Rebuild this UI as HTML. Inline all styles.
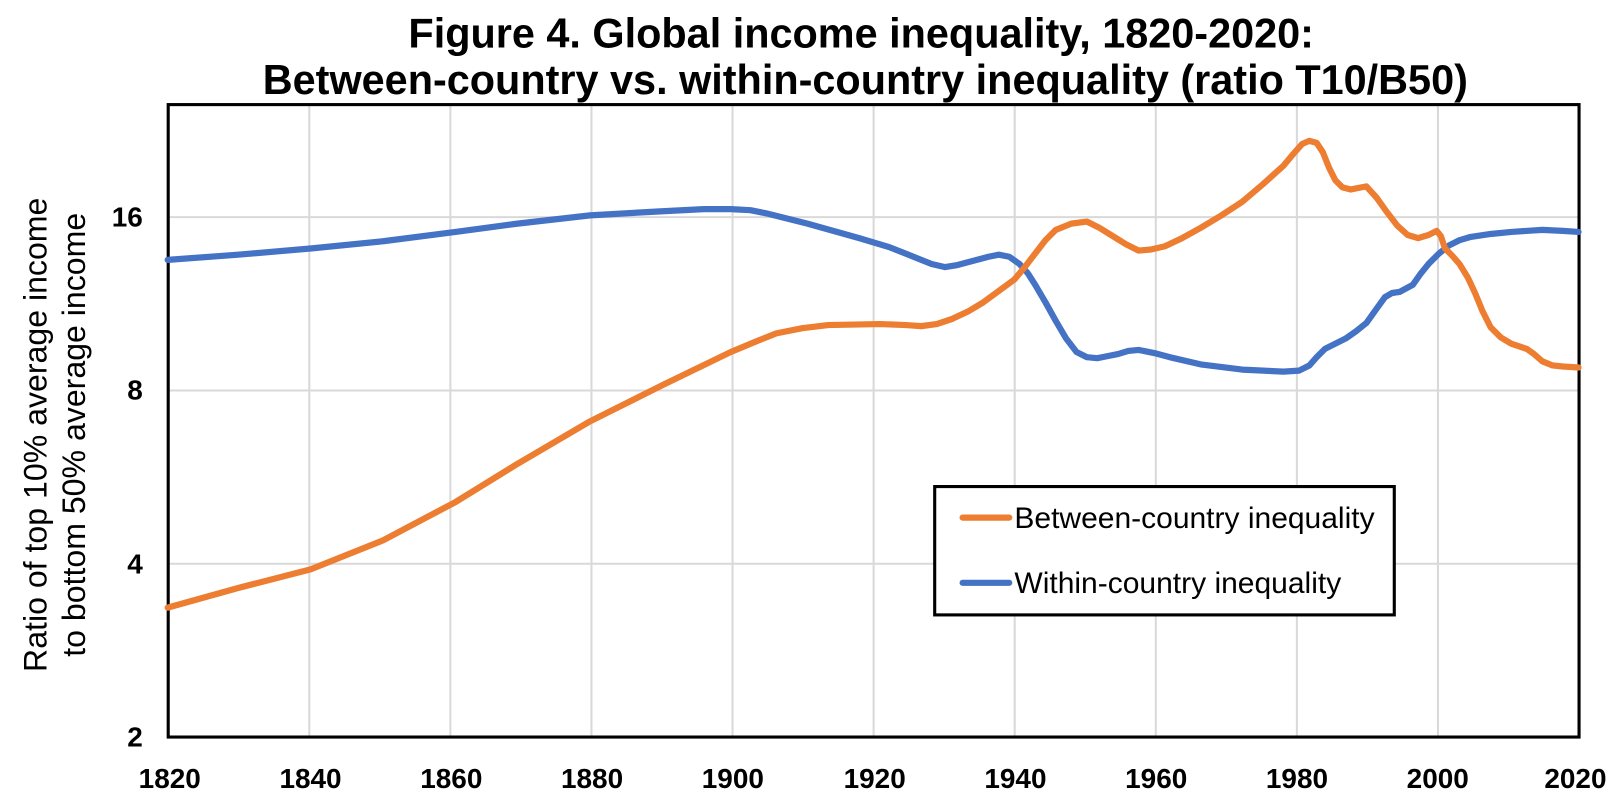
<!DOCTYPE html>
<html><head><meta charset="utf-8"><style>
html,body{margin:0;padding:0;background:#fff;}
svg{display:block;}
text{font-family:"Liberation Sans",Arial,sans-serif;}
</style></head><body>
<svg width="1622" height="793" viewBox="0 0 1567 766" xmlns="http://www.w3.org/2000/svg">
<g font-weight="bold" font-size="40" text-anchor="middle" fill="#000">
<text x="832" y="46">Figure 4. Global income inequality, 1820-2020:</text>
<text x="836" y="91">Between-country vs. within-country inequality (ratio T10/B50)</text>
</g>
<g stroke="#d9d9d9" stroke-width="2">
<line x1="298.8" y1="101" x2="298.8" y2="712"/>
<line x1="435.1" y1="101" x2="435.1" y2="712"/>
<line x1="571.4" y1="101" x2="571.4" y2="712"/>
<line x1="707.7" y1="101" x2="707.7" y2="712"/>
<line x1="844" y1="101" x2="844" y2="712"/>
<line x1="980.3" y1="101" x2="980.3" y2="712"/>
<line x1="1116.6" y1="101" x2="1116.6" y2="712"/>
<line x1="1252.9" y1="101" x2="1252.9" y2="712"/>
<line x1="1389.2" y1="101" x2="1389.2" y2="712"/>
<line x1="162.5" y1="209.7" x2="1525.5" y2="209.7"/>
<line x1="162.5" y1="377.2" x2="1525.5" y2="377.2"/>
<line x1="162.5" y1="544.6" x2="1525.5" y2="544.6"/>
</g>
<rect x="162.5" y="101" width="1363" height="611" fill="none" stroke="#000" stroke-width="3"/>
<g font-weight="bold" font-size="27" text-anchor="end">
<text x="138" y="219">16</text>
<text x="138" y="386">8</text>
<text x="138" y="554">4</text>
<text x="138" y="721">2</text>
</g>
<g font-weight="bold" font-size="27" text-anchor="middle">
<text x="164" y="761">1820</text><text x="300" y="761">1840</text><text x="436" y="761">1860</text>
<text x="572" y="761">1880</text><text x="708" y="761">1900</text><text x="845" y="761">1920</text>
<text x="981" y="761">1940</text><text x="1117" y="761">1960</text><text x="1253" y="761">1980</text>
<text x="1389" y="761">2000</text><text x="1522" y="761">2020</text>
</g>
<g font-size="31" text-anchor="middle">
<text transform="translate(45,420) rotate(-90)">Ratio of top 10% average income</text>
<text transform="translate(82,420) rotate(-90)">to bottom 50% average income</text>
</g>
<polyline fill="none" stroke="#4472c4" stroke-width="6" stroke-linejoin="round" stroke-linecap="round" points="162,251 230,246 300,240 370,233 440,224 500,216 570,208 640,204 680,202 706,202 725,203 740,206 780,216 830,230 860,239 875,245 890,251 900,255 913,258 925,256 940,252 955,248 965,246 975,248 985,255 993,264 1000,275 1010,292 1020,310 1030,327 1040,340 1050,345 1060,346 1070,344 1080,342 1090,339 1100,338 1115,341 1130,345 1160,352 1200,357 1240,359 1255,358 1265,353 1272,345 1280,337 1300,327 1310,320 1320,312 1330,298 1338,287 1345,283 1352,282 1365,275 1372,265 1380,255 1390,245 1400,237 1410,232 1420,229 1440,226 1460,224 1490,222 1510,223 1525,224"/>
<polyline fill="none" stroke="#ed7d31" stroke-width="6" stroke-linejoin="round" stroke-linecap="round" points="162,587 230,568 300,550 370,522 440,485 500,448 570,407 640,372 706,340 730,330 750,322 775,317 800,314 850,313 875,314 890,315 905,313 920,308 935,301 950,292 965,281 980,270 990,258 1000,245 1010,232 1020,222 1035,216 1050,214 1062,220 1075,228 1088,236 1100,242 1112,241 1125,238 1142,230 1160,220 1180,208 1200,195 1220,178 1240,160 1250,148 1258,139 1265,136 1272,138 1278,147 1284,162 1290,174 1297,181 1305,183 1320,180 1330,191 1340,205 1350,218 1360,227 1370,230 1380,227 1388,223 1392,228 1396,240 1403,247 1410,255 1418,268 1425,283 1432,300 1440,316 1450,326 1460,332 1475,337 1482,342 1490,349 1500,353 1510,354 1525,355"/>
<rect x="903" y="470" width="444" height="124" fill="#fff" stroke="#000" stroke-width="3"/>
<line x1="930" y1="500" x2="975" y2="500" stroke="#ed7d31" stroke-width="6" stroke-linecap="round"/>
<line x1="930" y1="563" x2="975" y2="563" stroke="#4472c4" stroke-width="6" stroke-linecap="round"/>
<g font-size="29">
<text x="980" y="510">Between-country inequality</text>
<text x="980" y="573">Within-country inequality</text>
</g>
</svg>
</body></html>
